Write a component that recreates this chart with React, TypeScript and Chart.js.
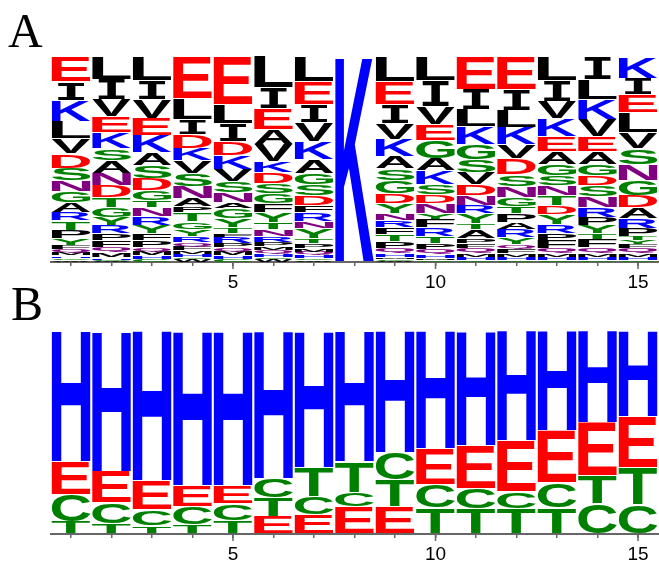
import React, { useEffect, useRef } from "react";
import { Chart, registerables } from "chart.js";

Chart.register(...registerables);

type Col = [string, number][];

// x positions and labelled ticks
const positions = ["1", "2", "3", "4", "5", "6", "7", "8", "9", "10", "11", "12", "13", "14", "15"];
const majorTicks = ["5", "10", "15"];

// Panel A: residue stacks, listed top -> bottom (relative heights)
const a01: Col = [["E",25],["I",18],["K",21],["L",17],["V",15],["D",14],["S",12],["N",11],["G",11],["A",10],["R",8],["T",9],["P",8],["Y",7],["F",4],["Q",3],["M",3],["H",2],["C",2],["W",2]];
const a02: Col = [["L",23],["I",20],["V",17],["E",16],["K",16],["S",12],["A",13],["N",12],["D",12],["T",10],["G",10],["Y",8],["R",8],["P",7],["F",7],["Q",5],["M",5],["H",2],["C",1],["W",1]];
const a03: Col = [["L",24],["I",19],["V",19],["E",17],["K",17],["A",13],["S",13],["D",12],["G",10],["T",7],["N",9],["R",9],["Y",8],["F",7],["P",7],["Q",4],["M",4],["H",3],["C",3]];
const a04: Col = [["E",42],["L",21],["I",15],["D",14],["K",12],["V",13],["S",13],["N",12],["A",8],["P",6],["T",9],["G",8],["Y",7],["R",6],["Q",4],["F",4],["M",3],["H",3],["C",2],["W",3]];
const a05: Col = [["E",48],["L",19],["I",18],["D",14],["K",14],["V",12],["S",11],["N",10],["A",6],["G",10],["Y",9],["T",6],["F",3],["R",7],["P",4],["Q",4],["M",4],["H",3],["C",3]];
const a06: Col = [["L",31],["I",21],["E",21],["A",15],["V",17],["K",11],["D",11],["S",10],["G",10],["F",9],["Y",10],["T",7],["N",7],["R",6],["P",4],["M",3],["Q",4],["H",3],["C",2],["W",3]];
const a07: Col = [["L",25],["E",23],["I",18],["V",19],["K",18],["A",14],["G",11],["S",11],["D",10],["F",7],["R",9],["N",7],["Y",10],["T",5],["P",5],["M",3],["Q",3],["H",3],["C",2],["W",2]];
const a08: Col = [["K",205]];
const a09: Col = [["L",25],["E",23],["I",19],["V",16],["K",17],["A",12],["S",12],["G",13],["D",10],["Y",10],["N",7],["R",7],["F",7],["T",7],["P",7],["Q",5],["H",3],["M",2],["C",2],["W",1]];
const a10: Col = [["L",24],["I",26],["V",18],["E",16],["G",18],["A",12],["K",14],["S",10],["D",9],["N",10],["Y",6],["F",8],["R",9],["T",7],["P",6],["Q",5],["H",3],["M",2],["C",2]];
const a11: Col = [["E",33],["I",20],["L",17],["K",18],["G",15],["S",13],["V",12],["D",11],["N",10],["R",8],["Y",10],["T",6],["A",9],["P",5],["F",5],["Q",5],["M",3],["H",3],["C",2]];
const a12: Col = [["E",33],["I",21],["L",17],["K",17],["V",14],["D",16],["S",12],["N",11],["G",9],["T",7],["P",9],["A",7],["R",8],["Y",7],["Q",4],["F",5],["M",3],["H",3],["C",2]];
const a13: Col = [["L",24],["I",21],["V",17],["K",18],["E",15],["A",13],["G",11],["S",10],["N",10],["T",10],["D",9],["Y",10],["R",9],["P",7],["F",8],["Q",5],["M",3],["H",3],["C",2]];
const a14: Col = [["I",23],["L",20],["K",20],["V",17],["E",15],["A",13],["G",11],["D",10],["S",11],["N",11],["R",10],["P",8],["Y",8],["T",6],["F",8],["Q",6],["M",3],["H",3],["C",2]];
const a15: Col = [["K",22],["I",16],["E",18],["L",20],["V",16],["S",16],["N",16],["G",15],["D",12],["A",11],["R",10],["P",8],["T",4],["Y",4],["F",4],["Q",5],["M",3],["H",3],["C",2]];
const panelA: Col[] = [a01, a02, a03, a04, a05, a06, a07, a08, a09, a10, a11, a12, a13, a14, a15];

// Panel B: stacks, listed top -> bottom
const b01: Col = [["H",131],["E",33],["C",27],["T",12]];
const b02: Col = [["H",141],["E",31],["C",21],["T",10]];
const b03: Col = [["H",151],["E",29],["C",16],["T",8]];
const b04: Col = [["H",155],["E",21],["C",18],["T",9]];
const b05: Col = [["H",155],["E",18],["C",17],["T",13]];
const b06: Col = [["H",148],["C",19],["T",19],["E",17]];
const b07: Col = [["H",137],["T",29],["C",18],["E",19]];
const b08: Col = [["H",131],["T",31],["C",14],["E",27]];
const b09: Col = [["H",122],["C",27],["T",27],["E",27]];
const b10: Col = [["H",118],["E",36],["C",23],["T",26]];
const b11: Col = [["H",115],["E",43],["C",20],["T",25]];
const b12: Col = [["H",110],["E",51],["C",17],["T",25]];
const b13: Col = [["H",100],["E",52],["C",25],["T",26]];
const b14: Col = [["H",92],["E",53],["T",28],["C",30]];
const b15: Col = [["H",86],["E",51],["T",37],["C",29]];
const panelB: Col[] = [b01, b02, b03, b04, b05, b06, b07, b08, b09, b10, b11, b12, b13, b14, b15];

const RED = "#FF0000";
const BLUE = "#0000FF";
const GREEN = "#008000";
const PURPLE = "#800080";
const BLACK = "#000000";
const letterColor: Record<string, string> = {
  E: RED, D: RED,
  K: BLUE, R: BLUE, H: BLUE,
  S: GREEN, G: GREEN, T: GREEN, Y: GREEN, C: GREEN,
  N: PURPLE, Q: PURPLE,
};

function buildDatasets(cols: Col[]) {
  const maxLen = Math.max(...cols.map((c) => c.length));
  const totals = cols.map((c) => c.reduce((s, e) => s + e[1], 0));
  const ds: any[] = [];
  for (let r = 0; r < maxLen; r++) {
    const data: number[] = [];
    const letters: string[] = [];
    cols.forEach((c, i) => {
      const e = c[c.length - 1 - r];
      data.push(e ? e[1] / totals[i] : 0);
      letters.push(e ? e[0] : "");
    });
    ds.push({
      label: "rank" + r,
      data,
      letters,
      backgroundColor: "rgba(0,0,0,0)",
      borderWidth: 0,
      barPercentage: 0.95,
      categoryPercentage: 1,
    });
  }
  return ds;
}

const glyphPlugin = {
  id: "glyphs",
  afterDatasetsDraw(chart: any) {
    const ctx = chart.ctx as CanvasRenderingContext2D;
    chart.data.datasets.forEach((ds: any, di: number) => {
      const meta = chart.getDatasetMeta(di);
      meta.data.forEach((el: any, i: number) => {
        const letter = ds.letters[i];
        if (!letter) return;
        const p = el.getProps(["x", "y", "base", "width"], true);
        const top = Math.min(p.y, p.base);
        const full = Math.abs(p.base - p.y);
        const gap = Math.min(1, full * 0.15);
        const h = full - gap;
        if (h < 0.4) return;
        let w = p.width;
        let left = p.x - w / 2;
        ctx.save();
        if (letter === "I") {
          ctx.font = 'bold 200px "DejaVu Sans Mono", "Liberation Mono", monospace';
          const nw = w * 0.68;
          left = p.x - nw / 2;
          w = nw;
        } else {
          ctx.font = 'bold 200px "Liberation Sans", Arial, Helvetica, sans-serif';
        }
        ctx.textAlign = "left";
        ctx.textBaseline = "alphabetic";
        const m = ctx.measureText(letter);
        const bw = m.actualBoundingBoxLeft + m.actualBoundingBoxRight;
        const bh = m.actualBoundingBoxAscent + m.actualBoundingBoxDescent;
        ctx.translate(left, top);
        ctx.scale(w / bw, h / bh);
        ctx.fillStyle = letterColor[letter] || BLACK;
        ctx.fillText(letter, m.actualBoundingBoxLeft, m.actualBoundingBoxAscent);
        ctx.restore();
      });
    });
  },
};

const majorTickPlugin = {
  id: "majorTicks",
  afterDraw(chart: any) {
    const xs = chart.scales.x;
    const ctx = chart.ctx as CanvasRenderingContext2D;
    const y0 = chart.chartArea.bottom;
    ctx.save();
    ctx.strokeStyle = "#666666";
    ctx.lineWidth = 1.5;
    majorTicks.forEach((lab) => {
      const idx = positions.indexOf(lab);
      const px = xs.getPixelForValue(idx);
      ctx.beginPath();
      ctx.moveTo(px, y0);
      ctx.lineTo(px, y0 + 7);
      ctx.stroke();
    });
    ctx.restore();
  },
};

function makeConfig(cols: Col[], padTop: number, axisH: number, fontSize: number, tickPad: number): any {
  return {
    type: "bar",
    data: { labels: positions, datasets: buildDatasets(cols) },
    options: {
      responsive: false,
      animation: false,
      events: [],
      layout: { padding: { top: padTop, left: 50.75, right: 0.75, bottom: 0 } },
      plugins: { legend: { display: false }, tooltip: { enabled: false }, title: { display: false } },
      scales: {
        x: {
          stacked: true,
          offset: true,
          grid: { offset: false, drawOnChartArea: false, drawTicks: true, tickLength: 4, color: "#666666", lineWidth: 1.5 },
          border: { display: true, color: "#666666", width: 2 },
          ticks: {
            autoSkip: false,
            maxRotation: 0,
            padding: tickPad,
            color: "#000000",
            font: { family: '"Liberation Sans", Arial, Helvetica, sans-serif', size: fontSize },
            callback: (_v: any, i: number) => (majorTicks.includes(positions[i]) ? positions[i] : ""),
          },
          afterFit: (scale: any) => { scale.height = axisH; },
        },
        y: { stacked: true, min: 0, max: 1, display: false },
      },
    },
    plugins: [glyphPlugin, majorTickPlugin],
  };
}

export default function App() {
  const refA = useRef<HTMLCanvasElement>(null);
  const refB = useRef<HTMLCanvasElement>(null);
  useEffect(() => {
    const cA = new Chart(refA.current!, makeConfig(panelA, 57, 32, 19, 5));
    const cB = new Chart(refB.current!, makeConfig(panelB, 37, 28, 19, 5));
    return () => { cA.destroy(); cB.destroy(); };
  }, []);
  const labelStyle: React.CSSProperties = {
    position: "absolute",
    fontFamily: '"Liberation Serif", "Times New Roman", serif',
    fontSize: 48,
    lineHeight: "48px",
    color: "#000",
  };
  return (
    <div style={{ position: "absolute", left: 0, top: 0, width: 659, height: 562, background: "#fff" }}>
      <canvas ref={refA} width={659} height={294} style={{ position: "absolute", left: 0, top: 0, width: 659, height: 294 }} />
      <canvas ref={refB} width={659} height={268} style={{ position: "absolute", left: 0, top: 294, width: 659, height: 268 }} />
      <div style={{ ...labelStyle, left: 8, top: 7 }}>A</div>
      <div style={{ ...labelStyle, left: 11, top: 280 }}>B</div>
    </div>
  );
}
